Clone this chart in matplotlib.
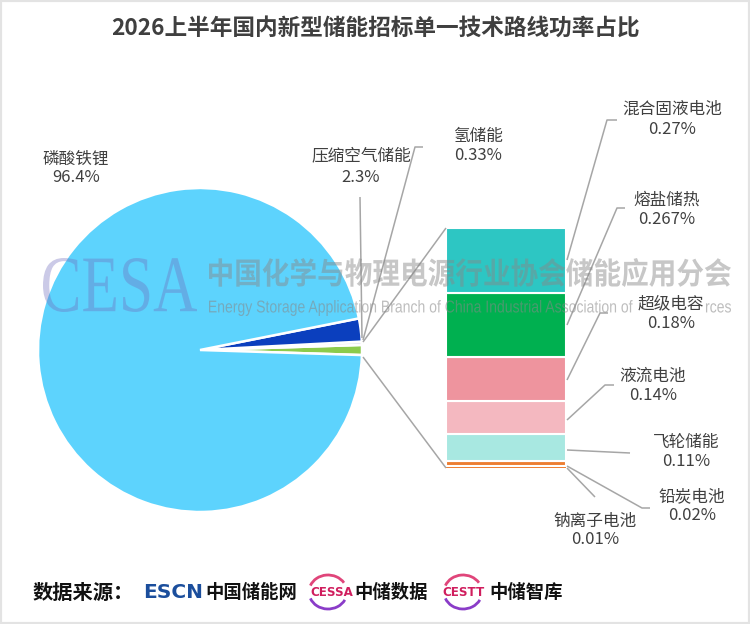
import matplotlib
matplotlib.use('Agg')
import matplotlib.pyplot as plt
from matplotlib.patches import PathPatch, Arc, Rectangle
from matplotlib.textpath import TextPath
from matplotlib.font_manager import FontProperties
from matplotlib.transforms import Affine2D

plt.rcParams['font.family'] = ['Noto Sans CJK SC', 'DejaVu Sans']

TITLE = '2026上半年国内新型储能招标单一技术路线功率占比'
pie_labels = ['磷酸铁锂', '压缩空气储能', '氢储能']
pie_values = [96.4, 2.3, 0.33]
pie_colors = ['#5DD3FD', '#0B3FBE', '#E4E4F0']
other_color = '#8CCB4C'
bar_labels = ['混合固液电池', '熔盐储热', '超级电容', '液流电池', '飞轮储能', '铅炭电池', '钠离子电池']
bar_values = [0.27, 0.267, 0.18, 0.14, 0.11, 0.02, 0.01]
bar_colors = ['#2DC6C3', '#00B050', '#EE949E', '#F4B8C0', '#A8E8E1', '#ED7D31', '#ED7D31']

W, H = 750, 624
fig = plt.figure(figsize=(7.5, 6.24), dpi=100)
ax = fig.add_axes([0, 0, 1, 1])


def Y(p):
    return H - p


TXT = '#404040'
LINE = '#A6A6A6'

# ---- pie ----
other = sum(bar_values)
wedge_vals = [other, pie_values[2], pie_values[1], pie_values[0]]
wedge_cols = [other_color, pie_colors[2], pie_colors[1], pie_colors[0]]
total = sum(wedge_vals)
start = -other / total * 360 / 2
ax.pie(wedge_vals, colors=wedge_cols, startangle=start, counterclock=True,
       center=(200, Y(350)), radius=162,
       wedgeprops=dict(edgecolor='white', linewidth=1.8), frame=True)

# ---- stacked bar ----
scale = 240 / other
bottom = Y(468)
for v, c in reversed(list(zip(bar_values, bar_colors))):
    ax.bar(506, v * scale, width=120, bottom=bottom, color=c,
           edgecolor='white', linewidth=1.5 if v > 0.015 else 0, zorder=2)
    bottom += v * scale


def line(pts):
    xs = [p[0] for p in pts]
    ys = [Y(p[1]) for p in pts]
    ax.plot(xs, ys, color=LINE, lw=1.1, zorder=3, solid_capstyle='butt')


# connector lines
line([(363, 342), (446, 228)])
line([(363, 357), (446, 468)])
# pie leaders
line([(360, 197), (362, 338)])
line([(423, 147), (415, 147), (363, 340)])
# bar leaders
line([(617, 120), (607, 120), (567, 260)])
line([(625, 208), (617, 208), (567, 325)])
line([(608, 313), (600, 313), (567, 380)])
line([(614, 385), (605, 385), (567, 420)])
line([(567, 450), (630, 453)])
line([(567, 466), (642, 508), (650, 508)])
line([(567, 468), (595, 497)])


# ---- watermark ----
def fit_text(s, x0, x1, y0, y1, prop, color, alpha, z=4):
    tp = TextPath((0, 0), s, size=50, prop=prop)
    ext = tp.get_extents()
    sx = (x1 - x0) / ext.width
    sy = (y1 - y0) / ext.height
    tr = Affine2D().translate(-ext.x0, -ext.y0).scale(sx, sy).translate(x0, Y(y1))
    patch = PathPatch(tr.transform_path(tp), facecolor=color, edgecolor='none',
                      alpha=alpha, zorder=z)
    ax.add_patch(patch)


fit_text('CESA', 43, 197, 258, 312, FontProperties(family='Liberation Serif'),
         '#706CBD', 0.36)
fit_text('中国化学与物理电源行业协会储能应用分会', 209, 731, 258, 287,
         FontProperties(family='Noto Sans CJK SC', weight='bold'), '#888888', 0.47)
fit_text('Energy Storage Application Branch of China Industrial Association of Power Sources',
         209, 731, 300, 316, FontProperties(family='Liberation Sans'), '#888888', 0.55)


# ---- labels ----
def lab(name, pct, cx, y1, y2, bg=False):
    kw = dict(ha='center', va='center', color=TXT, fontsize=12, zorder=6)
    if bg:
        kw['bbox'] = dict(facecolor='white', edgecolor='none', pad=0.5)
    ax.text(cx, Y(y1), name, **kw)
    ax.text(cx, Y(y2), pct, **kw)


def pct(v):
    return f'{v}%'


lab(pie_labels[0], pct(pie_values[0]), 76, 159, 178)
lab(pie_labels[1], pct(pie_values[1]), 361, 156, 177)
lab(pie_labels[2], pct(pie_values[2]), 478, 136, 156)

bar_pos = [(672, 109, 130), (667, 200, 220), (671, 304, 323), (653, 376, 395),
           (686, 442, 462), (692, 497, 516), (595, 521, 540)]
for name, v, (cx, y1, y2) in zip(bar_labels, bar_values, bar_pos):
    lab(name, pct(v), cx, y1, y2, bg=(name == '超级电容'))

# ---- title ----
ax.text(375, Y(28), TITLE, ha='center', va='center', fontsize=16.3,
        fontweight='bold', color='#3F3F3F', zorder=6)

# ---- footer ----
fy = Y(592)
ax.text(33, fy, '数据来源：', ha='left', va='center', fontsize=14.6, fontweight='bold', color='#111111')
ax.text(143, fy, 'ESCN', ha='left', va='center', fontsize=14.5, fontweight='bold',
        color='#1B4E9C', family='DejaVu Sans')
ax.text(205, fy, '中国储能网', ha='left', va='center', fontsize=13.2, fontweight='bold', color='#111111')
for cx, txt, x_txt, x_cn, cn in [(328, 'CESSA', 310, 354, '中储数据'),
                                (463, 'CESTT', 442, 489, '中储智库')]:
    ax.add_patch(Arc((cx, fy), 38, 34, theta1=30, theta2=160, color='#E0457A', lw=2.0))
    ax.add_patch(Arc((cx, fy), 38, 34, theta1=200, theta2=335, color='#8A3CC8', lw=2.0))
    ax.text(x_txt, fy, txt, ha='left', va='center', fontsize=8.6, fontweight='bold',
            color='#D01E5E', family='DejaVu Sans')
    ax.text(x_cn, fy, cn, ha='left', va='center', fontsize=13.2, fontweight='bold', color='#111111')

ax.set_xlim(0, W)
ax.set_ylim(0, H)
ax.set_aspect('auto')
ax.axis('off')

fig.patches.append(Rectangle((0, 0), 1, 1, transform=fig.transFigure, fill=False,
                             edgecolor='#E3E3E3', linewidth=3))

fig.savefig('out.png', dpi=100, facecolor='white')
